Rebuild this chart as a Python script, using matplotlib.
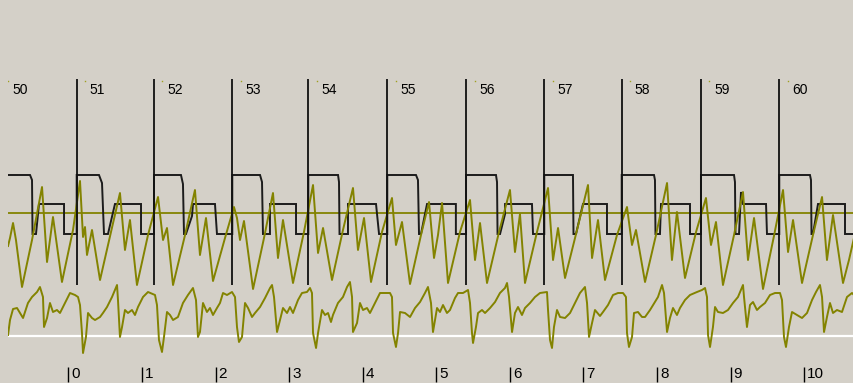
import matplotlib
matplotlib.use("Agg")
import matplotlib.pyplot as plt
import matplotlib.transforms as mtransforms
import numpy as np

# ---- beat markers and time axis -------------------------------------------
beat_numbers = [50, 51, 52, 53, 54, 55, 56, 57, 58, 59, 60]
beat_times = [-0.936, 0.114, 1.164, 2.228, 3.261, 4.334, 5.404, 6.467,
              7.519, 8.596, 9.660]
time_ticks = [0, 1, 2, 3, 4, 5, 6, 7, 8, 9, 10]

# ---- sync / trigger channel (square wave) ---------------------------------
sync_t = [-0.819, -0.520, -0.493, -0.486, -0.439, -0.398, -0.058, -0.058, 0.114, 0.114,
          0.417, 0.458, 0.485, 0.539, 0.634, 0.988, 0.988, 1.164, 1.164,
          1.531, 1.558, 1.572, 1.599, 1.681, 1.694, 1.993, 2.020, 2.228, 2.228,
          2.605, 2.632, 2.645, 2.740, 2.740, 3.094, 3.094, 3.261, 3.261,
          3.665, 3.678, 3.685, 3.800, 3.800, 4.181, 4.222, 4.334, 4.334,
          4.724, 4.751, 4.765, 4.792, 4.874, 5.266, 5.266, 5.404, 5.404,
          5.811, 5.825, 5.832, 5.866, 5.934, 5.934, 6.300, 6.314, 6.467, 6.467,
          6.857, 6.864, 6.898, 6.993, 7.319, 7.319, 7.519, 7.519,
          7.958, 7.971, 7.978, 8.039, 8.053, 8.447, 8.447, 8.596, 8.596,
          9.045, 9.058, 9.065, 9.113, 9.140, 9.167, 9.480, 9.493, 9.660, 9.660,
          10.077, 10.091, 10.098, 10.118, 10.186, 10.553, 10.553, 10.675]
sync_v = [38, 38, 33, -21, -21, 9, 9, -21, -21, 38,
          38, 30, -21, -21, 9, 9, -21, -21, 38,
          38, 29, -21, -21, -3, 9, 9, -21, -21, 38,
          38, 31, -21, -21, 9, 9, -21, -21, 38,
          38, 31, -21, -21, 9, 9, -21, -21, 38,
          38, 33, -21, -21, 9, 9, -21, -21, 38,
          38, 31, -21, -21, -1, 9, 9, -21, -21, 38,
          38, -21, -21, 9, 9, -21, -21, 38,
          38, 33, -21, -21, 9, 9, -21, -21, 38,
          38, 31, -21, -21, 21, 9, 9, -21, -21, 38,
          38, 33, -21, -21, 9, 9, -21, -21]

# ---- pressure channel -----------------------------------------------------
press_t = [-0.819, -0.792, -0.751, -0.711, -0.629,
           -0.493, -0.357, -0.289, -0.208, -0.086,
           0.064, 0.159, 0.200, 0.227, 0.254, 0.322, 0.431,
           0.580, 0.702, 0.770, 0.838, 0.933,
           1.083, 1.219, 1.287, 1.341, 1.423,
           1.586, 1.721, 1.789, 1.871, 1.966,
           2.129, 2.251, 2.292, 2.333, 2.387, 2.510,
           2.659, 2.781, 2.849, 2.917, 3.053,
           3.202, 3.325, 3.393, 3.461, 3.583,
           3.732, 3.868, 3.936, 4.018, 4.113,
           4.262, 4.398, 4.452, 4.534, 4.643,
           4.792, 4.901, 4.969, 5.023, 5.078, 5.159,
           5.322, 5.458, 5.526, 5.594, 5.689,
           5.852, 6.001, 6.069, 6.137, 6.205,
           6.368, 6.518, 6.586, 6.654, 6.749,
           6.912, 7.061, 7.116, 7.197, 7.292,
           7.455, 7.591, 7.659, 7.713, 7.836,
           7.985, 8.135, 8.202, 8.270, 8.379,
           8.529, 8.664, 8.732, 8.800, 8.895,
           9.045, 9.167, 9.235, 9.317, 9.439,
           9.588, 9.711, 9.779, 9.847, 9.969,
           10.118, 10.241, 10.308, 10.390, 10.526,
           10.607, 10.675]
press_v = [-33, -25, -10, -27, -74,
           -27, 26, -49, -4, -69,
           -17, 32, -24, -14, -42, -17, -67,
           -19, 20, -37, -7, -72,
           -22, 16, -27, -15, -72,
           -22, 23, -42, -5, -68,
           -25, 6, -5, -27, -8, -76,
           -25, 20, -45, -7, -70,
           -19, 28, -40, -15, -67,
           -17, 25, -37, -5, -69,
           -19, 15, -32, -9, -71,
           -22, 11, -45, -22, 10, -70,
           -19, 13, -47, -10, -70,
           -19, 23, -39, -1, -70,
           -19, 25, -47, -15, -65,
           -17, 28, -45, -7, -67,
           -22, 6, -32, -17, -69,
           -22, 30, -47, 1, -65,
           -19, 15, -32, -9, -72,
           -22, 21, -47, -5, -76,
           -23, 23, -39, -7, -70,
           -22, 16, -47, -2, -70,
           -47, -25]

# ---- flow channel ---------------------------------------------------------
flow_t = [-0.819, -0.792, -0.751, -0.697, -0.656, -0.615, -0.548, -0.493, -0.425, -0.385,
          -0.344, -0.330, -0.289, -0.249, -0.208, -0.154, -0.113, -0.045, 0.023, 0.091,
          0.132, 0.159, 0.186, 0.200, 0.240, 0.268, 0.322, 0.363, 0.431, 0.471,
          0.526, 0.594, 0.662, 0.675, 0.702, 0.730, 0.770, 0.811, 0.865, 0.906,
          0.947, 1.015, 1.083, 1.178, 1.205, 1.232, 1.273, 1.300, 1.341, 1.382,
          1.423, 1.490, 1.558, 1.626, 1.694, 1.735, 1.762,
          1.789, 1.830, 1.884, 1.925, 1.966, 2.020, 2.061, 2.102, 2.156, 2.224,
          2.265, 2.292, 2.319, 2.360, 2.401, 2.442, 2.496, 2.537, 2.605, 2.673,
          2.741, 2.768, 2.795, 2.836, 2.876, 2.917, 2.972, 3.012, 3.053, 3.121,
          3.175, 3.243, 3.284, 3.311, 3.325, 3.366, 3.393, 3.447, 3.488, 3.529,
          3.569, 3.596, 3.664, 3.732, 3.787, 3.827, 3.855, 3.868, 3.923, 3.963,
          4.004, 4.058, 4.099, 4.167, 4.235, 4.371, 4.398, 4.412, 4.452, 4.480,
          4.507, 4.575, 4.643, 4.711, 4.779, 4.846, 4.887, 4.928, 4.955, 5.010,
          5.050, 5.091, 5.145, 5.186, 5.254, 5.295, 5.363, 5.431, 5.458, 5.485,
          5.499, 5.539, 5.567, 5.621, 5.662, 5.730, 5.798, 5.865, 5.933, 5.961,
          5.988, 6.029, 6.069, 6.110, 6.164, 6.205, 6.273, 6.341, 6.409, 6.504,
          6.518, 6.545, 6.572, 6.599, 6.640, 6.681, 6.749, 6.817, 6.885, 6.952,
          7.020, 7.048, 7.075, 7.116, 7.156,
          7.224, 7.265, 7.333, 7.401, 7.469, 7.537, 7.577, 7.591, 7.618, 7.659,
          7.686, 7.740, 7.795, 7.836, 7.904, 7.971, 8.012, 8.067, 8.094, 8.135,
          8.175, 8.216, 8.270, 8.311, 8.379, 8.447, 8.542, 8.610, 8.651, 8.678,
          8.692, 8.719, 8.759, 8.787, 8.827, 8.895, 8.963, 9.031, 9.099, 9.167,
          9.181, 9.221, 9.262, 9.303, 9.357, 9.398, 9.466, 9.534, 9.602, 9.670,
          9.697, 9.724, 9.751, 9.792, 9.833, 9.901, 9.969, 10.037, 10.105, 10.159,
          10.213, 10.241, 10.268, 10.308, 10.349, 10.390, 10.444, 10.512, 10.580, 10.648,
          10.675]
flow_v = [1, 16, 27, 28, 23, 18, 33, 39, 44, 49,
          39, 9, 18, 33, 24, 26, 23, 33, 43, 41,
          39, 31, 3, -17, -1, 23, 18, 16, 19, 23,
          29, 39, 51, 36, -1, 9, 26, 23, 26, 21,
          29, 39, 44, 41, 31, -4, -16, -1, 24, 21,
          16, 19, 33, 41, 48, 36, -1,
          4, 33, 24, 28, 21, 28, 33, 43, 41, 44,
          39, 9, -6, -1, 33, 28, 19, 23, 29, 38,
          48, 51, 39, 4, 16, 28, 23, 29, 23, 36,
          43, 44, 48, 43, 3, -12, 3, 26, 21, 23,
          14, 21, 33, 39, 49, 54, 39, 4, 13, 33,
          26, 28, 23, 33, 43, 43, 39, 3, -11, 3,
          24, 23, 19, 28, 34, 43, 49, 33, 4, 28,
          24, 31, 23, 26, 38, 43, 43, 46, 33, 3,
          -7, 9, 23, 26, 23, 28, 34, 43, 48, 53,
          39, 4, 23, 29, 21, 28, 33, 39, 43, 44,
          26, -4, -12, 9, 26, 19, 18, 23, 33, 43,
          49, 33, -1, 13, 26,
          20, 24, 31, 41, 43, 43, 39, 3, -11, -1,
          23, 24, 19, 19, 26, 34, 39, 51, 43, 4,
          18, 28, 21, 28, 36, 41, 44, 46, 48, 39,
          1, -11, 9, 29, 24, 23, 26, 33, 39, 51,
          39, 9, 31, 34, 26, 29, 33, 41, 43, 43,
          36, -1, -11, 9, 24, 21, 18, 23, 36, 44,
          51, 39, 4, 19, 33, 23, 26, 24, 39, 43,
          41]

# ---- drawing --------------------------------------------------------------
BG = "#d4d0c8"
OLIVE = "#838300"
W, H, DPI = 854, 383, 100

fig = plt.figure(figsize=(W / DPI, H / DPI), dpi=DPI, facecolor=BG)
left_px = 8
ax = fig.add_axes([left_px / W, 0, (W - left_px) / W, 1])
ax.set_facecolor(BG)
for s in ax.spines.values():
    s.set_visible(False)
ax.set_xticks([])
ax.set_yticks([])

# time scale: 73.6 px per second, t=0 at x=68.3 px
px_per_s = 73.6
t0_px = 68.3
ax.set_xlim((left_px - t0_px) / px_per_s, (W - t0_px) / px_per_s)
ax.set_ylim(0, H)

upper_base = 170   # reference line of the pressure/sync channels
lower_base = 47    # reference line of the flow channel

def px_offset(dx):
    return ax.transData + mtransforms.ScaledTranslation(dx / DPI, 0, fig.dpi_scale_trans)

ax.axhline(upper_base, color=OLIVE, lw=1.3, zorder=1)
ax.axhline(lower_base, color="white", lw=1.6, zorder=1)

ax.plot(sync_t, upper_base + np.asarray(sync_v), color="#1c1c1c", lw=1.4,
        solid_joinstyle="miter", zorder=2)
ax.plot(press_t, upper_base + np.asarray(press_v), color=OLIVE, lw=1.4, zorder=3)
ax.plot(flow_t, lower_base + np.asarray(flow_v), color=OLIVE, lw=1.4, zorder=3)

ax.vlines(beat_times, 98, 304, color="#111111", lw=1.3, zorder=4)

font = ["Liberation Sans", "DejaVu Sans"]
for bt, bn in zip(beat_times, beat_numbers):
    ax.text(bt, 293.5, str(bn), transform=px_offset(13.0), ha="left", va="center",
            fontsize=10, family=font, color="black", zorder=5)
    ax.plot([bt], [302], marker="s", ms=1.0, color="#a0a020", mew=0,
            transform=px_offset(8.5), zorder=5)

ax.vlines(time_ticks, 1, 16, color="black", lw=1.0, zorder=5)
for tk in time_ticks:
    ax.text(tk, 8.5, str(tk), transform=px_offset(3.0), ha="left", va="center",
            fontsize=11, family=font, color="black", zorder=5)

fig.savefig("out.png", dpi=DPI, facecolor=BG)
